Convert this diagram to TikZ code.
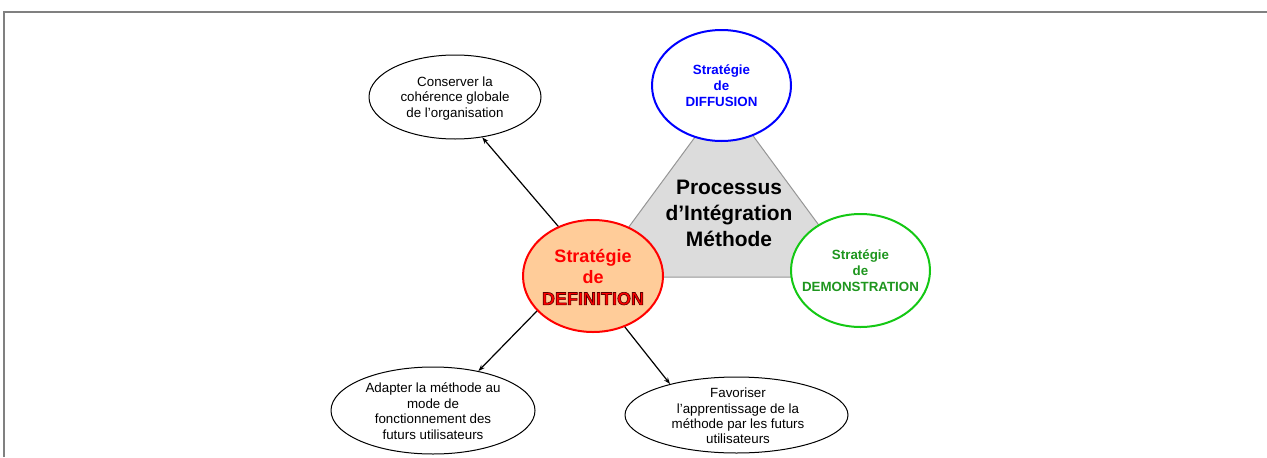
\documentclass[tikz,border=0pt]{standalone}
\usepackage{fontspec}
\setmainfont{Liberation Sans}
\usetikzlibrary{shapes.geometric,arrows.meta}
\definecolor{frame}{RGB}{128,128,128}
\definecolor{trifill}{RGB}{220,220,220}
\definecolor{triline}{RGB}{150,150,150}
\definecolor{peach}{RGB}{255,204,153}
\definecolor{grline}{RGB}{20,200,20}
\definecolor{grtext}{RGB}{30,150,30}
\newcommand{\outlinedtxt}[1]{\special{pdf:literal direct 2 Tr 0.45 w 0.35 0 0 RG}#1\special{pdf:literal direct 0 Tr}}
\tikzset{
  ell/.style={ellipse, draw=black, line width=0.75pt, fill=white, inner sep=0pt},
  strat/.style={ellipse, line width=1.5pt, inner sep=0pt},
  smalltxt/.style={align=center, font=\fontsize{10}{11.6}\selectfont, inner sep=0pt},
  strattxt/.style={align=center, font=\fontsize{10}{12}\selectfont\bfseries, inner sep=0pt},
  arr/.style={-{Stealth[length=5pt,width=3.5pt]}, line width=0.9pt, black},
}
\begin{document}
\begin{tikzpicture}[x=0.75pt,y=-0.75pt]
\useasboundingbox (0,0) rectangle (1267,457);
% frame
\draw[frame, line width=1.5pt] (4,457) -- (4,12) -- (1267,12);
% triangle
\coordinate (ta) at (724.5,97);
\coordinate (tb) at (592,277);
\coordinate (tc) at (857,277);
\draw[triline, fill=trifill, line width=0.75pt] (ta) -- (tb) -- (tc) -- cycle;
\node[align=center, font=\fontsize{15.7}{19.5}\selectfont\bfseries, inner sep=0pt] (proc) at (729,213) {Processus\\d’Intégration\\Méthode};
% strategy ellipses
\node[strat, draw=blue, fill=white, minimum width=104.25pt, minimum height=83.25pt] (diff) at (721.5,85.5) {};
\node[strattxt, text=blue] (difft) at (diff) {Stratégie\\de\\DIFFUSION};
\node[strat, draw=grline, fill=white, minimum width=104.25pt, minimum height=84.75pt] (demo) at (860.5,270.5) {};
\node[strattxt, text=grtext] (demot) at (demo) {Stratégie\\de\\DEMONSTRATION};
\node[strat, draw=red, fill=peach, minimum width=105pt, minimum height=84pt] (def) at (593,276) {};
\node[align=center, font=\fontsize{13.5}{16}\selectfont\bfseries, text=red, inner sep=0pt] (deft) at (593,277) {Stratégie\\de\\\outlinedtxt{DEFINITION}};
% goal ellipses
\node[ell, minimum width=129pt, minimum height=63pt] (tl) at (455,97) {};
\node[smalltxt] (tlt) at (455,98.5) {Conserver la\\cohérence globale\\de l’organisation};
\node[ell, minimum width=153pt, minimum height=65.25pt] (bl) at (433,410.5) {};
\node[smalltxt] (blt) at (433,411) {Adapter la méthode au\\mode de\\fonctionnement des\\futurs utilisateurs};
\node[ell, minimum width=167.25pt, minimum height=57pt] (br) at (736.5,415) {};
\node[smalltxt] (brt) at (738,416) {Favoriser\\l’apprentissage de la\\méthode par les futurs\\utilisateurs};
% arrows
\draw[arr] (def.125.5) -- (tl.304.6);
\draw[arr] (def.212.7) -- (bl.41.3);
\draw[arr] (def.302) -- (br.155.9);
\end{tikzpicture}
\end{document}
